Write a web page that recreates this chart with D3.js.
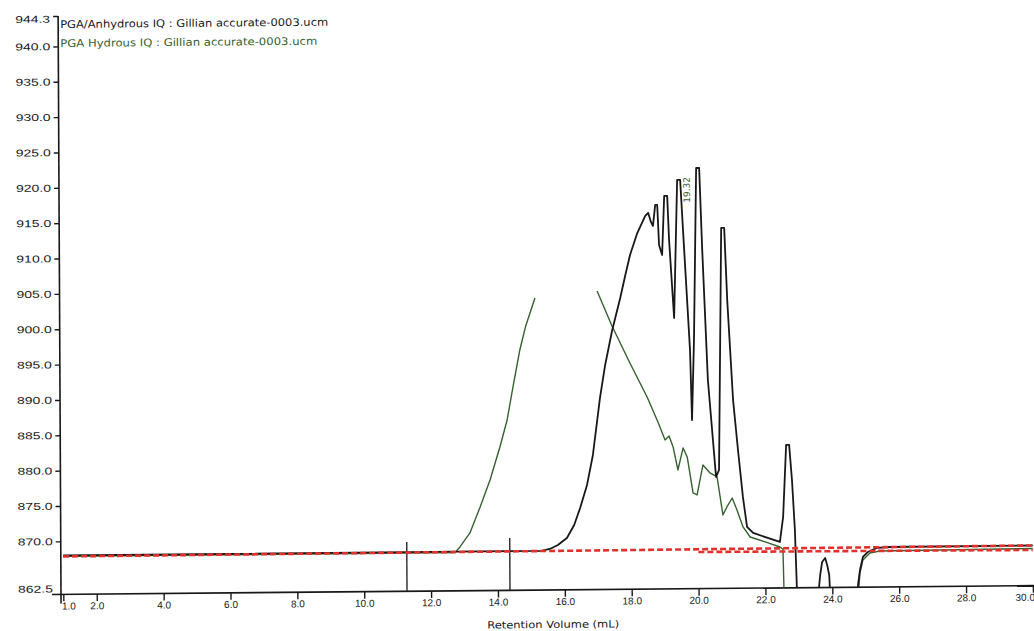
<!DOCTYPE html>
<html>
<head>
<meta charset="utf-8">
<script src="https://cdn.jsdelivr.net/npm/d3@7"></script>
<style>
  html, body { margin: 0; padding: 0; background: #fff; }
  svg { display: block; }
</style>
</head>
<body>
<div id="chart"></div>
<script>
// DATA ---------------------------------------------------------------------
const xTickValues = [1, 2, 4, 6, 8, 10, 12, 14, 16, 18, 20, 22, 24, 26, 28, 30];
const yTickValues = [862.5, 870, 875, 880, 885, 890, 895, 900, 905, 910, 915, 920, 925, 930, 935, 940, 944.3];
const legendLabels = ["PGA/Anhydrous IQ : Gillian accurate-0003.ucm", "PGA Hydrous IQ : Gillian accurate-0003.ucm"];
const axisTitle = "Retention Volume (mL)";

// PGA anhydrous trace (black)
const anhydrousVolume = [1.0, 15.30, 15.56, 15.80, 16.07, 16.29, 16.47, 16.68, 16.86, 17.08,
  17.24, 17.45, 17.70, 17.85, 18.00, 18.21, 18.46, 18.55, 18.63, 18.69,
  18.76, 18.82, 18.87, 18.96, 19.03, 19.12, 19.17, 19.31, 19.42, 19.51,
  19.62, 19.78, 19.83, 19.90, 19.99, 20.08, 20.16, 20.31, 20.54, 20.63,
  20.73, 20.82, 20.90, 21.06, 21.20, 21.34, 21.46, 21.64, 22.44, 22.54,
  22.64, 22.73, 22.81, 22.89, 22.95, 23.57, 23.64, 23.70, 23.79, 23.85,
  23.91, 23.94, 24.74, 24.77, 24.83, 24.92, 25.07, 25.34, 25.73, 30.00];
const anhydrousSignal = [868.0, 868.05, 868.30, 868.86, 869.84, 871.66, 874.06, 877.31, 881.54, 889.59,
  894.25, 899.05, 903.71, 906.81, 909.78, 912.74, 915.27, 915.70, 914.42, 913.85,
  916.82, 916.82, 911.16, 909.74, 918.08, 918.08, 911.85, 900.81, 920.33, 920.32,
  910.42, 896.27, 886.36, 897.67, 922.00, 921.99, 910.39, 892.00, 878.27, 879.26,
  913.48, 913.48, 903.29, 889.14, 882.06, 875.41, 871.16, 870.31, 869.00, 872.53,
  882.71, 882.71, 877.75, 870.68, 861.0, 861.0, 864.28, 866.12, 866.68, 865.69,
  864.27, 861.0, 861.0, 862.82, 864.94, 866.77, 867.47, 868.03, 868.15, 868.18];

// PGA hydrous trace (green), null = gap in the recorded line
const hydrousVolume = [1.0, 12.72, 12.87, 13.17, 13.48, 13.78, 14.08, 14.30, 14.48, 14.69,
  14.87, 15.15, 16.00, 17.01, 17.45, 17.98, 18.49, 18.81, 19.02, 19.14,
  19.26, 19.40, 19.56, 19.68, 19.85, 19.97, 20.15, 20.36, 20.57, 20.74,
  20.86, 21.02, 21.16, 21.34, 21.55, 22.00, 22.44, 22.53, 22.56, 24.77,
  24.83, 24.92, 25.13, 25.43, 30.00];
const hydrousSignal = [867.9, 867.9, 868.70, 870.67, 874.33, 878.14, 882.79, 886.60, 891.26, 896.48,
  899.87, 903.82, null, 904.73, 899.76, 894.50, 889.67, 886.12, 883.57, 884.13,
  882.57, 879.31, 882.42, 881.14, 876.04, 875.75, 879.99, 878.85, 878.27, 872.89,
  874.02, 875.28, 873.58, 871.17, 869.74, 869.02, 868.29, 868.00, 861.0, 861.0,
  864.51, 866.35, 867.33, 867.60, 867.76];

// integration baselines (red dashed)
const baselineUpperVolume = [1.0, 30.0];
const baselineUpperSignal = [867.86, 868.18];
const baselineLowerVolume = [20.0, 30.0];
const baselineLowerSignal = [867.68, 867.55];

// integration limit markers
const markerVolume = [11.28, 14.36];
const markerTop = [869.47, 869.9];

const peakLabelVolume = 19.80;
const peakLabelSignal = 918.9;
const peakLabelText = "19.32";

// SETTINGS -----------------------------------------------------------------
const settings = {
  width: 1034,
  height: 631,
  font: '"DejaVu Sans", Verdana, sans-serif',
  ink: "#181818",
  green: "#35622f",
  red: "#e2302c",
};

// SVG ----------------------------------------------------------------------
const { width, height, font, ink, green, red } = settings;
const svg = d3.select("#chart").append("svg")
  .attr("width", width)
  .attr("height", height);
svg.append("rect").attr("width", width).attr("height", height).attr("fill", "#fff");

// the scanned page is slightly skewed
const chart = svg.append("g")
  .attr("transform", "matrix(1,-0.009,0.005,1,-2.965,0.54)");

const x = d3.scaleLinear().domain([1, 30]).range([63.3, 1032.9]);
const y = d3.scaleLinear().domain([862.5, 944.3]).range([594.4, 16]);
const axisX = 61;
const axisY = y(862.5);

chart.append("clipPath").attr("id", "plot-clip")
  .append("rect")
  .attr("x", axisX)
  .attr("y", 0)
  .attr("width", width + 20 - axisX)
  .attr("height", axisY);

// AXES ---------------------------------------------------------------------
const yAxis = chart.append("g")
  .attr("transform", `translate(${axisX},0)`)
  .attr("font-family", font)
  .attr("font-size", 10.5)
  .call(d3.axisLeft(y).tickValues(yTickValues).tickFormat(d3.format(".1f")).tickSize(5).tickPadding(3));
yAxis.select(".domain").remove();
yAxis.selectAll(".tick line").attr("stroke", ink).attr("stroke-width", 1.4);
yAxis.selectAll(".tick text")
  .attr("fill", ink)
  .attr("textLength", 35)
  .attr("lengthAdjust", "spacingAndGlyphs");
yAxis.selectAll(".tick").filter(d => d === 862.5).select("line").remove();
yAxis.selectAll(".tick").filter(d => d === 862.5).select("text").attr("dy", "-0.25em");
yAxis.selectAll(".tick").filter(d => d === 944.3).select("text").attr("dy", "0.6em");

const xAxis = chart.append("g")
  .attr("transform", `translate(0,${axisY})`)
  .attr("font-family", font)
  .attr("font-size", 10)
  .call(d3.axisBottom(x).tickValues(xTickValues).tickFormat(d3.format(".1f")).tickSize(7).tickPadding(1));
xAxis.select(".domain").remove();
xAxis.selectAll(".tick line").attr("stroke", ink).attr("stroke-width", 1.4);
xAxis.selectAll(".tick text").attr("fill", ink);
xAxis.selectAll(".tick").filter(d => d === 1).select("text").attr("dx", "0.5em");
// last label sits against the right edge of the page
xAxis.selectAll(".tick").filter(d => d === 30).select("text")
  .attr("text-anchor", "end")
  .attr("dx", "0.15em");

chart.append("line")
  .attr("x1", axisX).attr("x2", axisX)
  .attr("y1", y(944.3)).attr("y2", axisY + 9)
  .attr("stroke", ink).attr("stroke-width", 1.6);
chart.append("line")
  .attr("x1", axisX - 9).attr("x2", width + 10)
  .attr("y1", axisY).attr("y2", axisY)
  .attr("stroke", ink).attr("stroke-width", 1.6);

chart.append("text")
  .attr("x", 553)
  .attr("y", axisY + 38)
  .attr("text-anchor", "middle")
  .attr("font-family", font)
  .attr("font-size", 10)
  .attr("fill", ink)
  .attr("textLength", 132)
  .attr("lengthAdjust", "spacingAndGlyphs")
  .text(axisTitle);

// TRACES -------------------------------------------------------------------
const toPoints = (vols, sigs) => vols.map((v, i) => ({ volume: v, signal: sigs[i] }));
const line = d3.line()
  .defined(d => d.signal !== null)
  .x(d => x(d.volume))
  .y(d => y(d.signal));

const plot = chart.append("g").attr("clip-path", "url(#plot-clip)");

plot.append("path")
  .datum(toPoints(hydrousVolume, hydrousSignal))
  .attr("d", line)
  .attr("fill", "none")
  .attr("stroke", green)
  .attr("stroke-width", 1.4)
  .attr("stroke-linejoin", "round");

plot.append("path")
  .datum(toPoints(anhydrousVolume, anhydrousSignal))
  .attr("d", line)
  .attr("fill", "none")
  .attr("stroke", ink)
  .attr("stroke-width", 1.8)
  .attr("stroke-linejoin", "round");

// markers
plot.selectAll(".marker")
  .data(markerVolume.map((v, i) => ({ volume: v, top: markerTop[i] })))
  .enter().append("line")
  .attr("class", "marker")
  .attr("x1", d => x(d.volume)).attr("x2", d => x(d.volume))
  .attr("y1", d => y(d.top)).attr("y2", axisY)
  .attr("stroke", ink).attr("stroke-width", 1.3);

// baselines
[[baselineUpperVolume, baselineUpperSignal], [baselineLowerVolume, baselineLowerSignal]].forEach(([vols, sigs]) => {
  plot.append("path")
    .datum(toPoints(vols, sigs))
    .attr("d", line)
    .attr("fill", "none")
    .attr("stroke", red)
    .attr("stroke-width", 2.6)
    .attr("stroke-dasharray", "6 3");
});

// peak label
chart.append("text")
  .attr("transform", `translate(${x(peakLabelVolume)},${y(peakLabelSignal)}) rotate(-90)`)
  .attr("text-anchor", "middle")
  .attr("font-family", font)
  .attr("font-size", 9)
  .attr("fill", green)
  .text(peakLabelText);

// LEGEND -------------------------------------------------------------------
const legendWidths = [268, 257];
const legendColors = [ink, green];
chart.selectAll(".legend")
  .data(legendLabels)
  .enter().append("text")
  .attr("class", "legend")
  .attr("x", 63)
  .attr("y", (d, i) => 28 + i * 19)
  .attr("font-family", font)
  .attr("font-size", 10.5)
  .attr("fill", (d, i) => legendColors[i])
  .attr("textLength", (d, i) => legendWidths[i])
  .attr("lengthAdjust", "spacingAndGlyphs")
  .text(d => d);
</script>
</body>
</html>
